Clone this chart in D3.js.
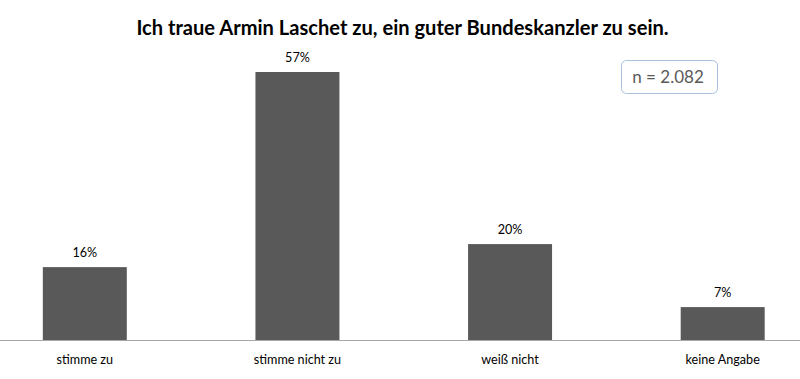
<!DOCTYPE html>
<html>
<head>
<meta charset="utf-8">
<script src="https://cdn.jsdelivr.net/npm/d3@7"></script>
<style>
  html, body { margin: 0; padding: 0; background: #fff; }
  svg { display: block; }
</style>
</head>
<body>
<script>
const categories = ["stimme zu", "stimme nicht zu", "weiß nicht", "keine Angabe"];
const values = [15.5, 57, 20.4, 7];
const valueLabels = ["16%", "57%", "20%", "7%"];
const titleText = "Ich traue Armin Laschet zu, ein guter Bundeskanzler zu sein.";
const sampleNote = "n = 2.082";

const W = 800, H = 379;
const font = "Lato, 'Open Sans', sans-serif";

const svg = d3.select("body").append("svg").attr("width", W).attr("height", H);

const x = d3.scaleBand().domain(categories).range([-21.5, 829])
  .paddingInner(0.605).paddingOuter(0.3025);
const y = d3.scaleLinear().domain([0, 60]).range([340, 57.9]);

// title
svg.append("text")
  .attr("x", 402.5).attr("y", 34.5)
  .attr("text-anchor", "middle")
  .attr("font-family", font).attr("font-weight", "bold")
  .attr("font-size", 20.1).attr("fill", "#000")
  .text(titleText);

// bars
svg.append("g").selectAll("rect").data(values).join("rect")
  .attr("x", (d, i) => x(categories[i]))
  .attr("width", x.bandwidth())
  .attr("y", d => y(d))
  .attr("height", d => y(0) - y(d))
  .attr("fill", "#595959");

// value labels
svg.append("g").selectAll("text").data(values).join("text")
  .attr("x", (d, i) => x(categories[i]) + x.bandwidth() / 2)
  .attr("y", d => y(d) - 10)
  .attr("text-anchor", "middle")
  .attr("font-family", font).attr("font-size", 12.6).attr("fill", "#000")
  .text((d, i) => valueLabels[i]);

// x axis
const axis = svg.append("g").attr("transform", `translate(0,${y(0)})`)
  .call(d3.axisBottom(x).tickSize(0).tickPadding(15.5));
axis.select(".domain").attr("stroke", "#a6a6a6").attr("stroke-width", 1);
axis.selectAll("text").attr("font-family", font).attr("font-size", 12.6).attr("fill", "#000");

// n box
const g = svg.append("g");
g.append("rect").attr("x", 621.5).attr("y", 60.5).attr("width", 96).attr("height", 33)
  .attr("rx", 5).attr("fill", "#fff").attr("stroke", "#a9c0de").attr("stroke-width", 1);
g.append("text").attr("x", 668).attr("y", 82.5).attr("text-anchor", "middle")
  .attr("font-family", font).attr("font-size", 17).attr("fill", "#595959")
  .text(sampleNote);
</script>
</body>
</html>
